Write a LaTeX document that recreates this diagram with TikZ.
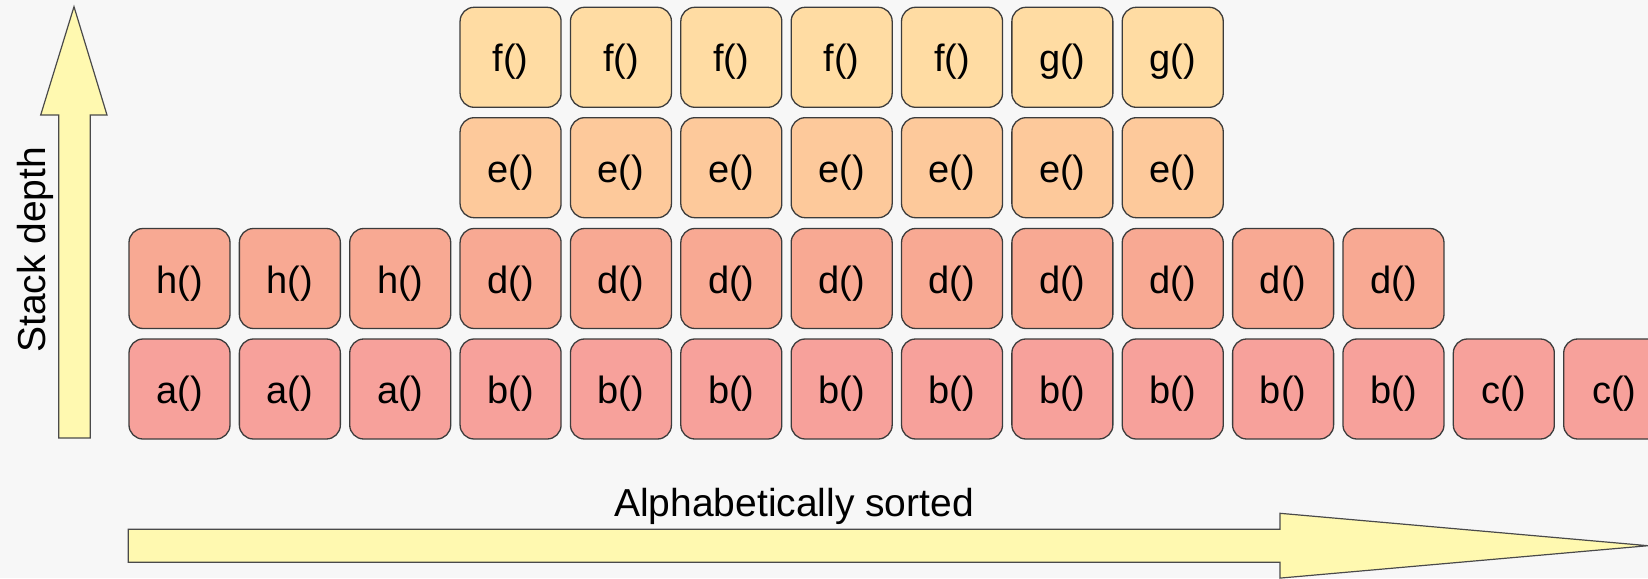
\documentclass[tikz,border=0pt]{standalone}
\usepackage{fontspec}
\setmainfont{Liberation Sans}
\definecolor{bg}{HTML}{F7F7F7}
\definecolor{rowA}{HTML}{F7A19B}
\definecolor{rowD}{HTML}{F8A993}
\definecolor{rowE}{HTML}{FDC99B}
\definecolor{rowF}{HTML}{FFDCA3}
\definecolor{arrowfill}{HTML}{FFF9B0}
\definecolor{boxline}{HTML}{3C3C3C}
\definecolor{arrowline}{HTML}{4A4A4A}
\begin{document}
\begin{tikzpicture}[x=1pt,y=1pt,
  fn/.style={draw=boxline, line width=1.3pt, rounded corners=14pt,
    minimum width=101pt, minimum height=100pt, inner sep=0pt,
    text height=29pt, text depth=0pt, font=\fontsize{38}{41}\selectfont},
  bigarrow/.style={draw=arrowline, fill=arrowfill, line width=1.2pt, line join=miter},
  axislabel/.style={inner sep=0pt, font=\fontsize{39}{42}\selectfont}]
\fill[bg] (0,0) rectangle (1648,-578);
\useasboundingbox (0,0) rectangle (1648,-578);
\clip (0,0) rectangle (1648,-578);
% vertical arrow
\draw[bigarrow] (58.7,-438) -- (58.7,-115) -- (40.7,-115) -- (74,-6.7)
  -- (107,-115) -- (90.3,-115) -- (90.3,-438) -- cycle;
\node[axislabel, rotate=90, anchor=base west] (depth) at (45,-353) {Stack depth};
% horizontal arrow
\draw[bigarrow] (128.3,-529.3) -- (1280,-529.3) -- (1280,-513.3) -- (1648,-545.7)
  -- (1280,-578.1) -- (1280,-562.3) -- (128.3,-562.3) -- cycle;
\node[axislabel, anchor=base] (sorted) at (794,-516) {Alphabetically sorted};
% bottom row
\foreach \t [count=\i from 0] in {a,a,a,b,b,b,b,b,b,b,b,b,c,c}
  \node[fn, fill=rowA] (A\i) at ({179.5+110.36*\i},-389) {\t()};
% second row
\foreach \t [count=\i from 0] in {h,h,h,d,d,d,d,d,d,d,d,d}
  \node[fn, fill=rowD] (D\i) at ({179.5+110.36*\i},-278.5) {\t()};
% third row
\foreach \i in {3,...,9}
  \node[fn, fill=rowE] (E\i) at ({179.5+110.36*\i},-167.7) {e()};
% top row
\foreach \i/\t in {3/f,4/f,5/f,6/f,7/f,8/g,9/g}
  \node[fn, fill=rowF] (F\i) at ({179.5+110.36*\i},-57.3) {\t()};
\end{tikzpicture}
\end{document}
